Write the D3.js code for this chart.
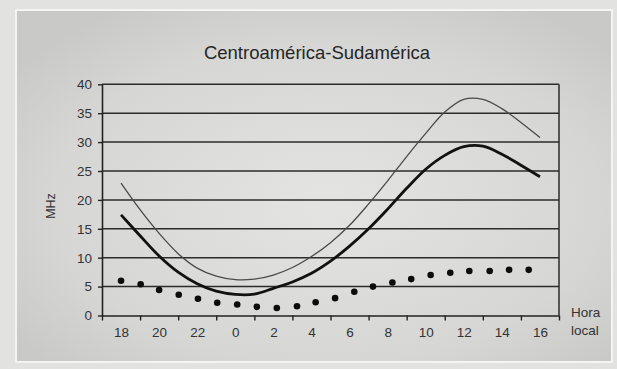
<!DOCTYPE html>
<html>
<head>
<meta charset="utf-8">
<script src="https://cdn.jsdelivr.net/npm/d3@7"></script>
<style>
  html, body { margin: 0; padding: 0; background: #e2e2e0; }
  svg { display: block; font-family: "Liberation Sans", Arial, sans-serif; }
</style>
</head>
<body>
<svg id="chart" width="617" height="369"></svg>
<script>
// Hour of day, counted on from 0 h of the first day (18 h .. 16 h next day)
const lineHours = [18, 19, 20, 21, 22, 23, 24, 25, 26, 27, 28, 29, 30, 31, 32, 33, 34, 35, 36, 37, 38, 39, 40];
// Upper curve (thin line), MHz
const upperMHz = [22.9, 18.3, 14.2, 10.7, 8.2, 6.8, 6.2, 6.3, 7.0, 8.3, 10.2, 12.6, 15.6, 19.3, 23.3, 27.5, 31.5, 35.2, 37.4, 37.4, 35.8, 33.4, 30.8];
// Middle curve (thick line), MHz
const middleMHz = [17.4, 13.8, 10.3, 7.5, 5.5, 4.2, 3.65, 3.7, 4.7, 5.8, 7.3, 9.4, 12.0, 15.0, 18.4, 22.0, 25.3, 27.7, 29.2, 29.3, 27.9, 26.0, 24.0];
// Lower series (dots)
const dotHours = [18.0, 19.03, 20.0, 21.03, 22.04, 23.05, 24.1, 25.13, 26.18, 27.24, 28.22, 29.24, 30.25, 31.23, 32.25, 33.24, 34.26, 35.29, 36.29, 37.36, 38.38, 39.41];
const dotMHz = [6.0, 5.4, 4.4, 3.6, 2.9, 2.2, 1.9, 1.5, 1.3, 1.6, 2.3, 3.0, 4.1, 5.0, 5.7, 6.3, 7.0, 7.4, 7.7, 7.7, 7.9, 7.9];
// Axis ticks
const yTicks = [0, 5, 10, 15, 20, 25, 30, 35, 40];
const xLabelHours = [18, 20, 22, 24, 26, 28, 30, 32, 34, 36, 38, 40];
const xTickHours = [17, 19, 21, 23, 25, 27, 29, 31, 33, 35, 37, 39, 41];

const title = "Centroamérica-Sudamérica";
const yTitle = "MHz";
const xTitle = ["Hora", "local"];

const svg = d3.select("#chart");

// Panel background with soft lighting
const defs = svg.append("defs");
const grad = defs.append("radialGradient")
  .attr("id", "panelBg")
  .attr("cx", "52%").attr("cy", "55%").attr("r", "65%");
grad.append("stop").attr("offset", "0%").attr("stop-color", "#e4e4e2");
grad.append("stop").attr("offset", "70%").attr("stop-color", "#d6d6d4");
grad.append("stop").attr("offset", "100%").attr("stop-color", "#c9c9c7");

svg.append("rect")
  .attr("x", 16).attr("y", 10).attr("width", 596).attr("height", 352)
  .attr("fill", "url(#panelBg)")
  .attr("stroke", "#f4f4f2").attr("stroke-width", 2);

const x = d3.scaleLinear().domain([17, 41]).range([102, 559]);
const y = d3.scaleLinear().domain([0, 40]).range([315.5, 84.3]);

// Title
svg.append("text")
  .attr("x", 317).attr("y", 59)
  .attr("text-anchor", "middle")
  .attr("font-size", 18.5)
  .attr("fill", "#262626")
  .text(title);

// Horizontal gridlines
svg.append("g")
  .selectAll("line")
  .data(yTicks.filter(d => d > 0))
  .join("line")
  .attr("x1", x(17)).attr("x2", x(41))
  .attr("y1", d => y(d)).attr("y2", d => y(d))
  .attr("stroke", "#2b2b2b").attr("stroke-width", 1.5);

// Right border of the plot
svg.append("line")
  .attr("x1", x(41)).attr("x2", x(41))
  .attr("y1", y(40)).attr("y2", y(0))
  .attr("stroke", "#2b2b2b").attr("stroke-width", 1.5);

// Y axis
const yAxis = svg.append("g")
  .attr("transform", `translate(${x(17)},0)`)
  .call(d3.axisLeft(y).tickValues(yTicks).tickSize(4).tickSizeOuter(0).tickPadding(6));
yAxis.select(".domain").attr("stroke", "#222").attr("stroke-width", 1.6);
yAxis.selectAll(".tick line").attr("stroke", "#222").attr("stroke-width", 1.4);
yAxis.selectAll(".tick text")
  .attr("font-size", 13.5).attr("fill", "#333")
  .attr("font-family", "Liberation Sans, Arial, sans-serif");

// X axis: tick marks between labels
const xAxisTicks = svg.append("g")
  .attr("transform", `translate(0,${y(0)})`)
  .call(d3.axisBottom(x).tickValues(xTickHours).tickSize(5).tickSizeOuter(0).tickFormat(""));
xAxisTicks.select(".domain").attr("stroke", "#222").attr("stroke-width", 1.6);
xAxisTicks.selectAll(".tick line").attr("stroke", "#222").attr("stroke-width", 1.4);

// X axis: hour labels
const xAxisLabels = svg.append("g")
  .attr("transform", `translate(0,${y(0)})`)
  .call(d3.axisBottom(x).tickValues(xLabelHours).tickSize(0).tickPadding(12)
    .tickFormat(d => String(d % 24)));
xAxisLabels.select(".domain").remove();
xAxisLabels.selectAll(".tick text")
  .attr("font-size", 13.5).attr("fill", "#333")
  .attr("font-family", "Liberation Sans, Arial, sans-serif");

// Axis titles
svg.append("text")
  .attr("transform", `translate(55,206) rotate(-90)`)
  .attr("text-anchor", "middle")
  .attr("font-size", 12.5).attr("fill", "#333")
  .text(yTitle);

svg.append("g")
  .selectAll("text")
  .data(xTitle)
  .join("text")
  .attr("x", 571)
  .attr("y", (d, i) => 317 + i * 18)
  .attr("font-size", 13.5).attr("fill", "#333")
  .text(d => d);

// Curves
const line = d3.line()
  .x(d => x(d[0]))
  .y(d => y(d[1]))
  .curve(d3.curveCatmullRom.alpha(0.5));

svg.append("path")
  .datum(d3.zip(lineHours, upperMHz))
  .attr("d", line)
  .attr("fill", "none")
  .attr("stroke", "#4a4a4a").attr("stroke-width", 1.3);

svg.append("path")
  .datum(d3.zip(lineHours, middleMHz))
  .attr("d", line)
  .attr("fill", "none")
  .attr("stroke", "#111").attr("stroke-width", 2.8)
  .attr("stroke-linejoin", "round");

// Dots
svg.append("g")
  .selectAll("circle")
  .data(d3.zip(dotHours, dotMHz))
  .join("circle")
  .attr("cx", d => x(d[0]))
  .attr("cy", d => y(d[1]))
  .attr("r", 3.3)
  .attr("fill", "#0c0c0c");
</script>
</body>
</html>
